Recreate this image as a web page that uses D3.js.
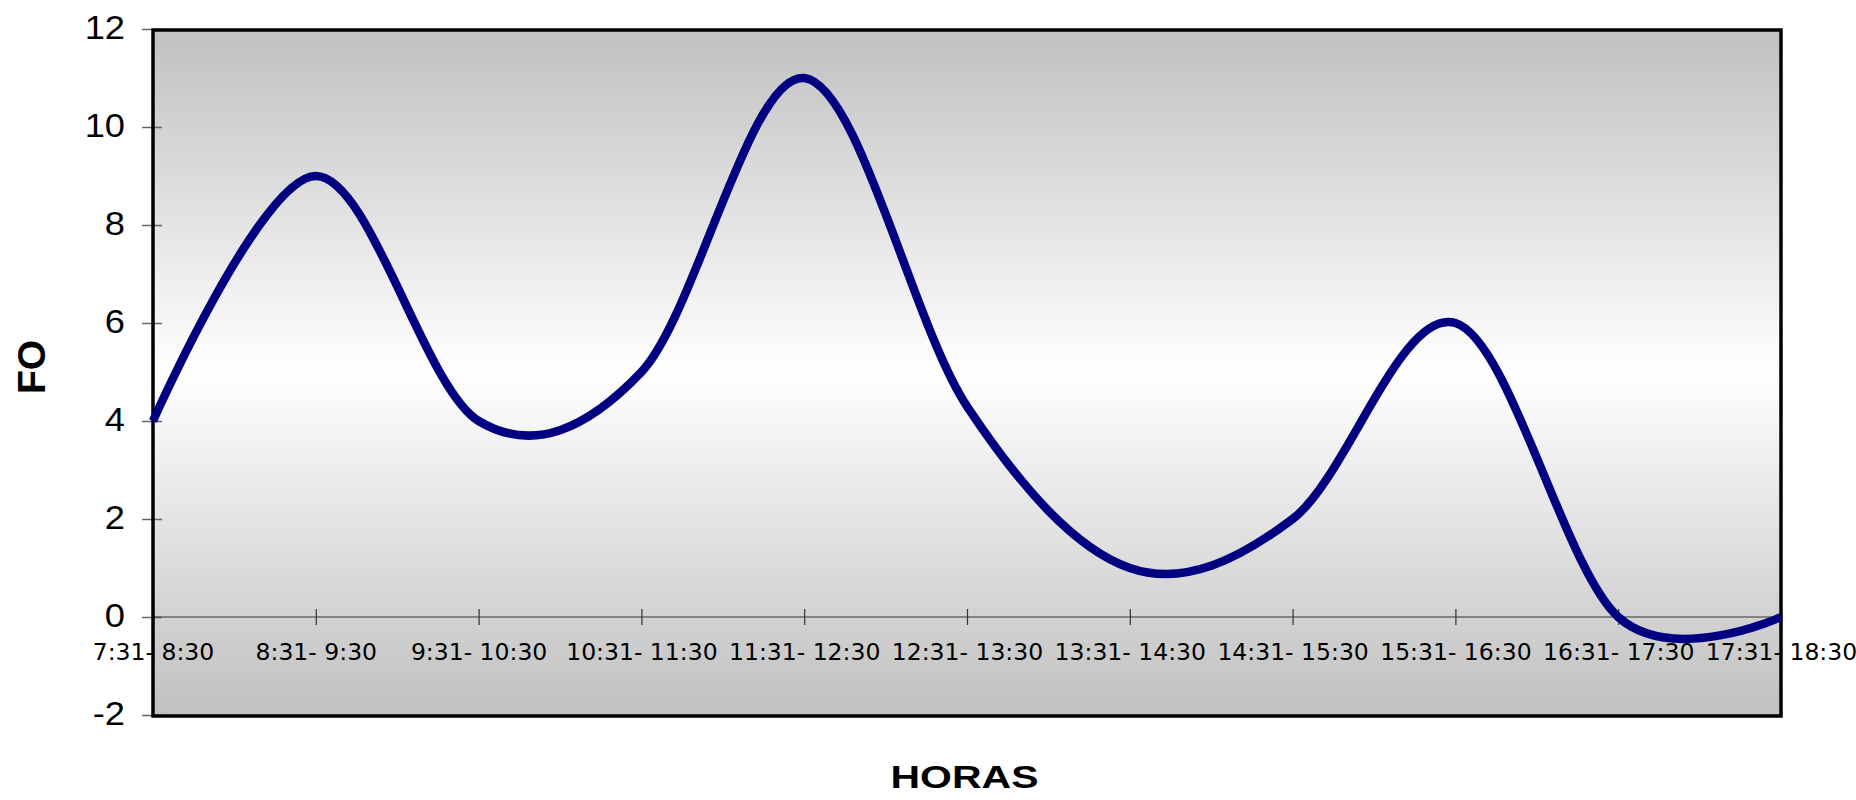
<!DOCTYPE html>
<html>
<head>
<meta charset="utf-8">
<script src="https://cdn.jsdelivr.net/npm/d3@7"></script>
<style>
  html, body { margin: 0; padding: 0; background: #ffffff; }
  svg { display: block; }
</style>
</head>
<body>
<svg id="chart" width="1856" height="800"></svg>
<script>
// ---- data ----
const categories = [
  "7:31- 8:30", "8:31- 9:30", "9:31- 10:30", "10:31- 11:30", "11:31- 12:30",
  "12:31- 13:30", "13:31- 14:30", "14:31- 15:30", "15:31- 16:30", "16:31- 17:30",
  "17:31- 18:30"
];
const foValues = [4.0, 9.0, 4.0, 5.0, 11.0, 4.3, 1.0, 2.0, 6.0, 0.0, 0.0];
const yTicks = [-2, 0, 2, 4, 6, 8, 10, 12];
const xTitle = "HORAS";
const yTitle = "FO";

// ---- layout ----
const svg = d3.select("#chart");
const plotLeft = 153, plotRight = 1781, plotTop = 29, plotBottom = 715;

const x = d3.scalePoint().domain(categories).range([plotLeft, plotRight]).padding(0);
const y = d3.scaleLinear().domain([-2, 12]).range([plotBottom, plotTop]);

// gradient background
const defs = svg.append("defs");
const grad = defs.append("linearGradient").attr("id", "bg")
  .attr("x1", 0).attr("y1", 0).attr("x2", 0).attr("y2", 1);
grad.append("stop").attr("offset", "0%").attr("stop-color", "#c0c0c0");
grad.append("stop").attr("offset", "50%").attr("stop-color", "#ffffff");
grad.append("stop").attr("offset", "100%").attr("stop-color", "#c0c0c0");

svg.append("rect")
  .attr("x", plotLeft).attr("y", plotTop)
  .attr("width", plotRight - plotLeft).attr("height", plotBottom - plotTop)
  .attr("fill", "url(#bg)");

// y axis
const yAxis = d3.axisLeft(y).tickValues(yTicks).tickSize(10).tickPadding(18)
  .tickFormat(d => String(d));
const gy = svg.append("g").attr("transform", `translate(${plotLeft},0)`).call(yAxis);
gy.select(".domain").remove();
gy.selectAll(".tick line").attr("x1", -11).attr("x2", 9)
  .attr("stroke", "#666").attr("stroke-width", 1.5);
gy.selectAll(".tick text")
  .attr("font-family", "'Liberation Sans', Arial, sans-serif")
  .attr("font-size", 33).attr("fill", "#000").attr("dy", "0.30em")
  .attr("x", -28 / 1.1).attr("transform", "scale(1.1,1)");

// x axis on zero line
const xAxis = d3.axisBottom(x).tickSize(7).tickPadding(0);
const gx = svg.append("g").attr("transform", `translate(0,${y(0)})`).call(xAxis);
gx.select(".domain").attr("d", `M${plotLeft},0H${plotRight}`).attr("stroke", "#333").attr("stroke-width", 1.2);
gx.selectAll(".tick line").attr("y1", -8).attr("y2", 8).attr("stroke", "#333").attr("stroke-width", 1.2);
gx.selectAll(".tick text")
  .attr("font-family", "'DejaVu Sans', sans-serif")
  .attr("font-size", 23.5).attr("fill", "#000")
  .attr("y", 43).attr("dy", 0);

// frame
svg.append("rect")
  .attr("x", plotLeft).attr("y", plotTop + 1)
  .attr("width", plotRight - plotLeft).attr("height", plotBottom - plotTop)
  .attr("fill", "none").attr("stroke", "#000").attr("stroke-width", 3.5);

// line
const line = d3.line()
  .x((d, i) => x(categories[i]))
  .y(d => y(d))
  .curve(d3.curveCardinal.tension(0));
svg.append("path")
  .datum(foValues)
  .attr("d", line)
  .attr("fill", "none")
  .attr("stroke", "#000080")
  .attr("stroke-width", 8.5)
  .attr("stroke-linejoin", "miter");

// titles
svg.append("text")
  .attr("x", 964.5).attr("y", 788)
  .attr("text-anchor", "middle")
  .attr("font-family", "'Liberation Sans', Arial, sans-serif")
  .attr("font-weight", "bold").attr("font-size", 32)
  .attr("textLength", 148).attr("lengthAdjust", "spacingAndGlyphs")
  .text(xTitle);

svg.append("text")
  .attr("transform", "translate(45,367) rotate(-90)")
  .attr("text-anchor", "middle")
  .attr("font-family", "'Liberation Sans', Arial, sans-serif")
  .attr("font-weight", "bold").attr("font-size", 39)
  .text(yTitle);
</script>
</body>
</html>
